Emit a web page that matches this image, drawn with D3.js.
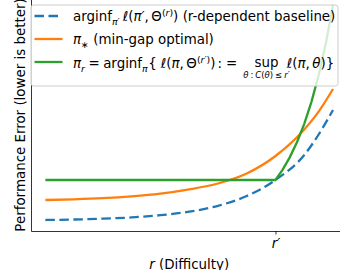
<!DOCTYPE html>
<html>
<head>
<meta charset="utf-8">
<script src="https://cdn.jsdelivr.net/npm/d3@7"></script>
<style>
body { margin: 0; background: #fff; }
svg { display: block; font-family: "DejaVu Sans", sans-serif; }
</style>
</head>
<body>
<svg id="chart" width="340" height="270"></svg>
<script>
var rGrid = [0, 0.1, 0.2, 0.3, 0.4, 0.5, 0.6, 0.7, 0.8, 0.9, 0.95, 1.0];
var baselineError = [1.0, 1.025, 1.065, 1.13, 1.24, 1.415, 1.71, 2.2, 3.0, 4.25, 5.275, 6.5];
var minGapError = [2.0, 2.035, 2.09, 2.18, 2.315, 2.53, 2.825, 3.325, 4.2, 5.525, 6.42, 7.55];
var robustR = [0, 0.8, 0.825, 0.85, 0.875, 0.9, 0.925, 0.95, 0.975, 1.0];
var robustError = [3.0, 3.0, 3.52, 4.145, 4.9, 5.81, 6.91, 8.235, 9.83, 11.75];
var xTicks = [0.8];
var xTickLabels = ["r′"];
var yLimits = [0.45, 12.05];

var FS = 13.4, SS = 9.4;
var svg = d3.select("#chart");

var rExt = d3.extent(rGrid), pad = 0.05 * (rExt[1] - rExt[0]);
var x = d3.scaleLinear().domain([rExt[0] - pad, rExt[1] + pad]).range([31, 347.4]);
var y = d3.scaleLinear().domain(yLimits).range([231, -1]);

var line = d3.line()
    .x(function(d) { return x(d[0]); })
    .y(function(d) { return y(d[1]); });

function drawSeries(rs, vs, color, curve, dash) {
    svg.append("path")
      .datum(d3.zip(rs, vs))
      .attr("d", line.curve(curve))
      .attr("fill", "none")
      .attr("stroke", color)
      .attr("stroke-width", 2.3)
      .attr("stroke-dasharray", dash || null);
}

drawSeries(rGrid, baselineError, "#1f77b4", d3.curveMonotoneX, "9.5,4.5");
drawSeries(rGrid, minGapError, "#ff7f0e", d3.curveMonotoneX);
drawSeries(robustR, robustError, "#2ca02c", d3.curveLinear);

// axes
var xAxis = svg.append("g")
    .attr("transform", "translate(0," + y.range()[0] + ")")
    .call(d3.axisBottom(x).tickValues(xTicks).tickSize(3.5).tickSizeOuter(0).tickPadding(3.5)
      .tickFormat(function(d, i) { return xTickLabels[i]; }));
xAxis.selectAll("path, line").attr("stroke", "#000").attr("stroke-width", 0.8);
xAxis.selectAll("text")
    .attr("font-family", "DejaVu Sans")
    .attr("font-size", FS)
    .style("font-style", "italic")
    .attr("fill", "#000");

var yAxis = svg.append("g")
    .attr("transform", "translate(" + x.range()[0] + ",0)")
    .call(d3.axisLeft(y).tickValues([]).tickSizeOuter(0));
yAxis.select("path").attr("stroke", "#000").attr("stroke-width", 0.8);

var xl = svg.append("text")
    .attr("x", (x.range()[0] + x.range()[1]) / 2)
    .attr("y", 269)
    .attr("text-anchor", "middle")
    .attr("font-size", FS);
xl.append("tspan").style("font-style", "italic").text("r");
xl.append("tspan").text(" (Difficulty)");

svg.append("text")
    .attr("transform", "translate(25," + (y.range()[0] + y.range()[1]) / 2 + ") rotate(-90)")
    .attr("text-anchor", "middle")
    .attr("font-size", FS)
    .text("Performance Error (lower is better)");

// legend
var lg = svg.append("g");
lg.append("rect")
    .attr("x", 31).attr("y", 5)
    .attr("width", 307).attr("height", 81)
    .attr("rx", 2.7)
    .attr("fill", "#fff").attr("fill-opacity", 0.8)
    .attr("stroke", "#cccccc").attr("stroke-width", 1);

var handles = [
    {y: 16, color: "#1f77b4", dash: "9.5,4.5"},
    {y: 39, color: "#ff7f0e"},
    {y: 62, color: "#2ca02c"}
];
handles.forEach(function(h) {
    lg.append("line")
      .attr("x1", 34.5).attr("x2", 62.5)
      .attr("y1", h.y).attr("y2", h.y)
      .attr("stroke", h.color)
      .attr("stroke-width", 2.3)
      .attr("stroke-dasharray", h.dash || null);
});

function mathText(g, x0, y0, parts) {
    var cx = x0;
    parts.forEach(function(p) {
        var t = g.append("text")
          .attr("x", cx + (p.dx || 0))
          .attr("y", y0 + (p.dy || 0))
          .attr("font-size", p.size || FS)
          .style("font-style", p.it ? "italic" : "normal")
          .text(p.t);
        cx += (p.dx || 0) + t.node().getComputedTextLength();
    });
    return cx;
}

function sub(t, it) { return {t: t, it: it, size: SS, dy: 3.5}; }
function sup(t, it) { return {t: t, it: it, size: SS, dy: -5.5}; }

mathText(lg, 73, 21, [
    {t: "arginf"}, sub("π′", true),
    {t: "ℓ", it: true, dx: 3}, {t: "("}, {t: "π′", it: true}, {t: ","}, {t: "Θ", dx: 2.5},
    sup("("), sup("r", true), sup(")"), {t: ")"},
    {t: "(r-dependent baseline)", dx: 4.3}
]);

mathText(lg, 73, 44.3, [
    {t: "π", it: true}, sub("∗"),
    {t: "(min-gap optimal)", dx: 4.3}
]);

var cx = mathText(lg, 73, 68, [
    {t: "π", it: true}, sub("r", true),
    {t: "=", dx: 3.5}, {t: "arginf", dx: 3.5}, sub("π", true), {t: "{", dx: 0.5},
    {t: "ℓ", it: true, dx: 4}, {t: "("}, {t: "π", it: true}, {t: ","}, {t: "Θ", dx: 2.5},
    sup("("), sup("r′", true), sup(")"), {t: ")"},
    {t: ":", dx: 2}, {t: "=", dx: 4}
]);

// sup with its underscript
var under = lg.append("g");
var uEnd = mathText(under, 0, 0, [
    {t: "θ", it: true, size: 8.5}, {t: ":", size: 8.5, dx: 2}, {t: "C", it: true, size: 8.5, dx: 2},
    {t: "(", size: 8.5}, {t: "θ", it: true, size: 8.5}, {t: ")", size: 8.5},
    {t: "≤", size: 8.5, dx: 2}, {t: "r′", it: true, size: 8.5, dx: 2}
]);
var ux = cx + 6;
under.attr("transform", "translate(" + ux + ",78)");
lg.append("text")
    .attr("x", ux + uEnd / 2).attr("y", 67)
    .attr("text-anchor", "middle")
    .attr("font-size", FS)
    .text("sup");

mathText(lg, ux + uEnd - 3, 68, [
    {t: "ℓ", it: true}, {t: "("}, {t: "π", it: true}, {t: ","}, {t: "θ", it: true, dx: 2.5},
    {t: ")"}, {t: "}"}
]);
</script>
</body>
</html>
